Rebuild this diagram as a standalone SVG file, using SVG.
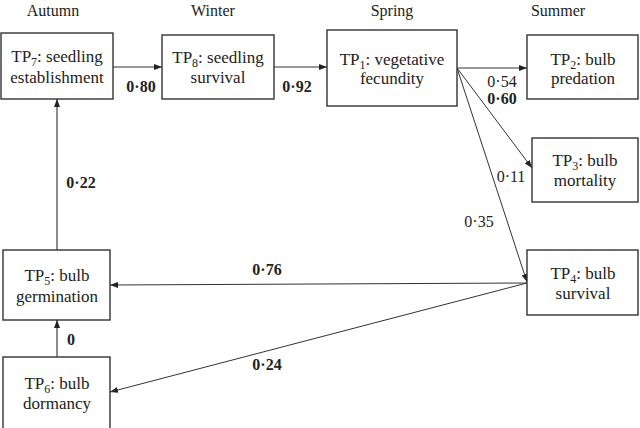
<svg xmlns="http://www.w3.org/2000/svg" width="640" height="428" viewBox="0 0 640 428">
<style>
text{font-family:"Liberation Serif","Times New Roman",serif;fill:#222}
.season{font-size:16px}
.node rect{fill:#fff;stroke:#333;stroke-width:1.4}
.node text{font-size:17px;text-anchor:middle}
.lbl{font-size:16px}
.b{font-weight:bold}
.edge{stroke:#333;stroke-width:1;fill:none;marker-end:url(#ah)}
.vert{stroke:#666;stroke-width:1.5;fill:none;marker-end:url(#ah)}
</style>
<defs>
<marker id="ah" markerUnits="userSpaceOnUse" markerWidth="8" markerHeight="6" refX="8" refY="3" orient="auto">
<path d="M0,0 L8,3 L0,6 z" fill="#222"/>
</marker>
</defs>
<g id="seasons" class="season">
<text x="53" y="16" text-anchor="middle">Autumn</text>
<text x="213" y="16" text-anchor="middle">Winter</text>
<text x="392" y="16" text-anchor="middle">Spring</text>
<text x="558" y="16" text-anchor="middle">Summer</text>
</g>
<g id="connectors">
<line class="edge" x1="113" y1="67" x2="162" y2="67"/>
<line class="edge" x1="274" y1="67" x2="327" y2="67"/>
<line class="edge" x1="457" y1="68" x2="527" y2="68"/>
<line class="edge" x1="457" y1="68" x2="532" y2="168"/>
<line class="edge" x1="457" y1="68" x2="527" y2="282"/>
<line class="edge" x1="527" y1="283" x2="110" y2="285"/>
<line class="edge" x1="527" y1="283" x2="110" y2="392"/>
<line class="vert" x1="57" y1="357" x2="57" y2="320"/>
<line class="vert" x1="57" y1="250" x2="57" y2="99"/>
</g>
<g id="TP7" class="node">
<rect x="1" y="33" width="112" height="66"/>
<text x="57" y="62">TP<tspan font-size="12" dy="4">7</tspan><tspan dy="-4">: seedling</tspan></text>
<text x="57" y="83">establishment</text>
</g>
<g id="TP8" class="node">
<rect x="162" y="35" width="112" height="64"/>
<text x="218" y="63">TP<tspan font-size="12" dy="4">8</tspan><tspan dy="-4">: seedling</tspan></text>
<text x="218" y="83">survival</text>
</g>
<g id="TP1" class="node">
<rect x="327" y="30" width="130" height="76"/>
<text x="392" y="65">TP<tspan font-size="12" dy="4">1</tspan><tspan dy="-4">: vegetative</tspan></text>
<text x="392" y="84">fecundity</text>
</g>
<g id="TP2" class="node">
<rect x="527" y="35" width="111" height="64"/>
<text x="583" y="65">TP<tspan font-size="12" dy="4">2</tspan><tspan dy="-4">: bulb</tspan></text>
<text x="583" y="84">predation</text>
</g>
<g id="TP3" class="node">
<rect x="532" y="138" width="106" height="64"/>
<text x="585" y="166">TP<tspan font-size="12" dy="4">3</tspan><tspan dy="-4">: bulb</tspan></text>
<text x="585" y="186">mortality</text>
</g>
<g id="TP4" class="node">
<rect x="527" y="250" width="111" height="65"/>
<text x="583" y="279">TP<tspan font-size="12" dy="4">4</tspan><tspan dy="-4">: bulb</tspan></text>
<text x="583" y="299">survival</text>
</g>
<g id="TP5" class="node">
<rect x="3" y="250" width="107" height="70"/>
<text x="57" y="281">TP<tspan font-size="12" dy="4">5</tspan><tspan dy="-4">: bulb</tspan></text>
<text x="57" y="302">germination</text>
</g>
<g id="TP6" class="node">
<rect x="3" y="357" width="107" height="72"/>
<text x="57" y="389">TP<tspan font-size="12" dy="4">6</tspan><tspan dy="-4">: bulb</tspan></text>
<text x="57" y="409">dormancy</text>
</g>
<g id="labels" class="lbl">
<text class="b" x="141" y="92" text-anchor="middle">0·80</text>
<text class="b" x="297" y="92" text-anchor="middle">0·92</text>
<text x="502" y="87" text-anchor="middle">0·54</text>
<text class="b" x="502" y="104" text-anchor="middle">0·60</text>
<text x="511" y="182" text-anchor="middle">0·11</text>
<text x="479" y="227" text-anchor="middle">0·35</text>
<text class="b" x="81" y="188" text-anchor="middle">0·22</text>
<text class="b" x="267" y="275" text-anchor="middle">0·76</text>
<text class="b" x="267" y="370" text-anchor="middle">0·24</text>
<text class="b" x="71" y="345" text-anchor="middle">0</text>
</g>
</svg>
